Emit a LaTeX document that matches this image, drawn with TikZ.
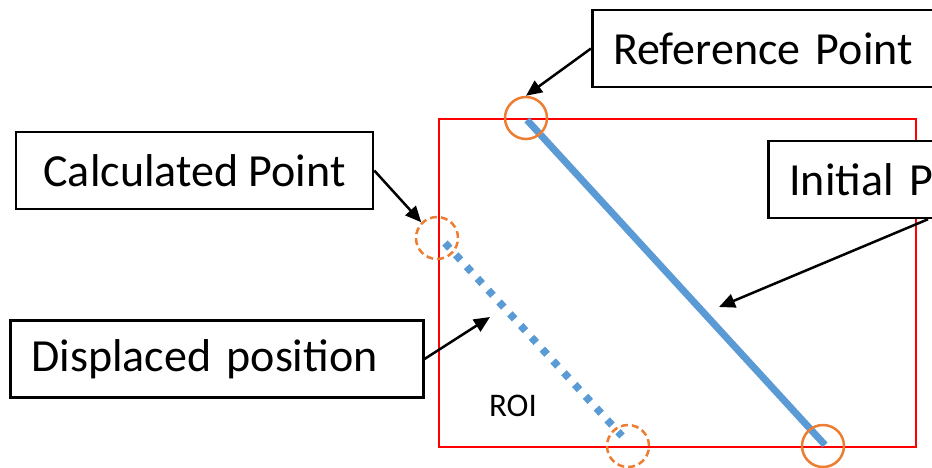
\documentclass[tikz,border=0pt]{standalone}
\usepackage{fontspec}
\setmainfont{Carlito}
\usetikzlibrary{arrows.meta,calc}
\definecolor{roired}{HTML}{FF0000}
\definecolor{lineblue}{HTML}{5B9BD5}
\definecolor{ptorange}{HTML}{ED7D31}
\tikzset{
  labelbox/.style={draw=black, fill=white, line width=2.5pt, minimum height=77pt,
    inner xsep=21pt, inner ysep=0pt, font=\fontsize{46}{52}\selectfont, anchor=west},
  callout/.style={draw=black, line width=2.5pt, -{Triangle[length=16pt,width=14pt]}},
  solidpt/.style={circle, draw=ptorange, line width=2.5pt, minimum size=42pt, inner sep=0pt},
  dashpt/.style={circle, draw=ptorange, line width=2.5pt, minimum size=42pt, inner sep=0pt,
    dash pattern=on 7pt off 4pt},
}
\begin{document}
\begin{tikzpicture}[x=1pt,y=-1pt]
\useasboundingbox (0,0) rectangle (932,467);
\clip (0,0) rectangle (932,467);
% ROI rectangle
\draw[roired, line width=2pt] (439,119) rectangle (916,447);
% lines
\draw[lineblue, line width=7pt] (527,120) -- (825,445);
\draw[lineblue, line width=7.5pt, dash pattern=on 7pt off 9pt] (445,243) -- (622,436);
% points
\node[solidpt] (refc) at (526,118) {};
\node[solidpt] (endc) at (823,446) {};
\node[dashpt] (calcc) at (437,238) {};
\node[dashpt] (dispc) at (628,446) {};
% ROI label
\node[font=\fontsize{33}{38}\selectfont] (roi) at (513,406) {ROI};
% label boxes
\node[labelbox, minimum width=370pt, text width=328pt, align=left] (refbox) at (591,48.5) {Reference Point};
\node[labelbox, minimum width=357pt, anchor=center] (calcbox) at (194.5,170.5) {Calculated Point};
\node[labelbox, minimum width=300pt, text width=258pt, align=left] (initbox) at (767,179.5) {Initial Point};
\node[labelbox, minimum width=413pt, text width=371pt, align=left] (dispbox) at (9,359) {Displaced position};
% callouts
\coordinate (initTip) at (719,307);
\coordinate (dispTip) at (490,317);
\draw[callout] (refbox.west) -- (refc.north);
\draw[callout] (calcbox.east) -- (calcc.north west);
\draw[callout] ([xshift=161pt]initbox.south west) -- (initTip);
\draw[callout] (dispbox.east) -- (dispTip);
\end{tikzpicture}
\end{document}
